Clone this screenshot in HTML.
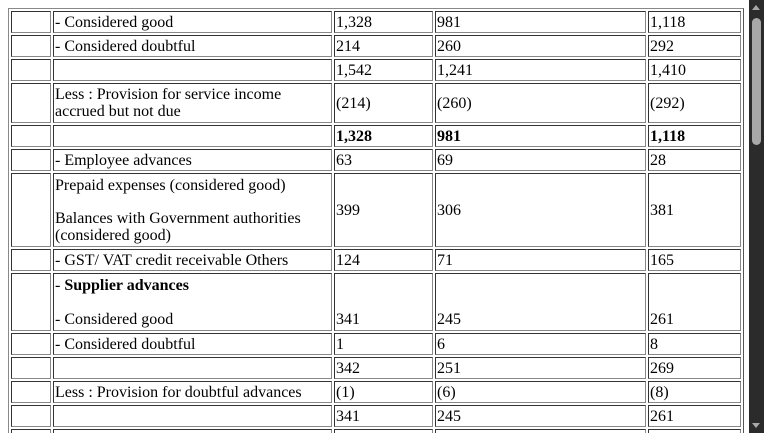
<!DOCTYPE html>
<html><head><meta charset="utf-8"><style>
html,body{margin:0;padding:0;width:764px;height:433px;overflow:hidden;background:#fff;}
body{position:relative;font-family:"Liberation Serif",serif;font-size:16px;color:#000;}
table{position:absolute;left:8px;top:8px;border:1px solid #888;border-right-color:#555;border-bottom-color:#555;border-spacing:2px;table-layout:fixed;width:734px;}
td{border:1px solid #666;border-top-color:#333;border-left-color:#333;border-right-color:#888;border-bottom-color:#888;padding:0 1px;vertical-align:middle;line-height:17px;overflow:hidden;box-sizing:border-box;white-space:normal;}
.h22{height:22px;}
.b{font-weight:bold;}
.bot td{vertical-align:bottom;padding-bottom:2px;}
#sb{position:absolute;left:749px;top:0;width:15px;height:433px;background:#2b2b2b;}
#thumb{position:absolute;left:3px;top:18px;width:9px;height:127px;background:#a8a8a8;border-radius:5px;}
.arr{position:absolute;left:3px;width:0;height:0;border-left:4.5px solid transparent;border-right:4.5px solid transparent;}
</style></head><body>
<table>
<colgroup><col style="width:40px"><col style="width:279px"><col style="width:99px"><col style="width:211px"><col style="width:93px"></colgroup>
<tr><td class="h22"></td><td>- Considered good</td><td>1,328</td><td>981</td><td>1,118</td></tr>
<tr><td class="h22"></td><td>- Considered doubtful</td><td>214</td><td>260</td><td>292</td></tr>
<tr><td class="h22"></td><td></td><td>1,542</td><td>1,241</td><td>1,410</td></tr>
<tr><td style="height:40px"></td><td>Less : Provision for service income<br>accrued but not due</td><td>(214)</td><td>(260)</td><td>(292)</td></tr>
<tr class="b"><td class="h22"></td><td></td><td>1,328</td><td>981</td><td>1,118</td></tr>
<tr><td class="h22"></td><td>- Employee advances</td><td>63</td><td>69</td><td>28</td></tr>
<tr><td style="height:74px"></td><td>Prepaid expenses (considered good)<div style="height:16px"></div>Balances with Government authorities<br>(considered good)</td><td>399</td><td>306</td><td>381</td></tr>
<tr><td class="h22"></td><td>- GST/ VAT credit receivable Others</td><td>124</td><td>71</td><td>165</td></tr>
<tr class="bot"><td style="height:58px"></td><td>- <b>Supplier advances</b><div style="height:17px"></div>- Considered good</td><td>341</td><td>245</td><td>261</td></tr>
<tr><td class="h22"></td><td>- Considered doubtful</td><td>1</td><td>6</td><td>8</td></tr>
<tr><td class="h22"></td><td></td><td>342</td><td>251</td><td>269</td></tr>
<tr><td class="h22"></td><td>Less : Provision for doubtful advances</td><td>(1)</td><td>(6)</td><td>(8)</td></tr>
<tr><td class="h22"></td><td></td><td>341</td><td>245</td><td>261</td></tr>
<tr><td class="h22"></td><td>Deferred</td><td></td><td></td><td>44</td></tr>
</table>
<div id="sb">
<div class="arr" style="top:5px;border-bottom:5px solid #a8a8a8;"></div>
<div id="thumb"></div>
<div class="arr" style="top:423px;border-top:5px solid #a8a8a8;"></div>
</div>
</body></html>
